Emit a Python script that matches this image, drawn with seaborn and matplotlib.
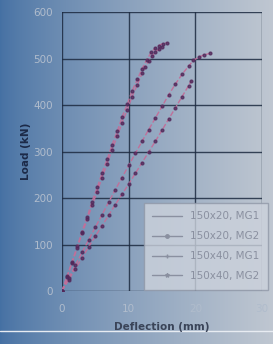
import numpy as np
import pandas as pd
import matplotlib.pyplot as plt
import seaborn as sns
from matplotlib.lines import Line2D

# load-deflection readings
defl_20_mg1 = [0, 1, 2, 3, 4, 5, 6, 7, 8, 9, 10, 11, 12, 13, 14, 15, 16, 17, 18, 19, 19.4]
load_20_mg1 = [0, 24, 48, 71, 95, 118, 140, 163, 186, 208, 230, 253, 276, 299, 322, 346, 370, 394, 418, 442, 452]

defl_20_mg2 = [0, 1, 2, 3, 4, 5, 6, 7, 8, 9, 10, 11, 12, 13, 14, 15, 16, 17, 18, 19, 19.7, 20.5, 21.3, 22.2]
load_20_mg2 = [0, 28, 55, 83, 110, 137, 164, 191, 218, 244, 270, 296, 322, 347, 372, 397, 422, 445, 466, 484, 496, 503, 508, 511]

defl_40_mg1 = [0, 0.8, 1.5, 2.3, 3, 3.8, 4.5, 5.3, 6, 6.8, 7.5, 8.3, 9, 9.8, 10.5, 11.3, 12, 12.5, 13, 13.5, 14, 14.5, 15]
load_40_mg1 = [0, 31, 60, 93, 124, 154, 184, 214, 244, 274, 304, 333, 362, 390, 418, 444, 468, 482, 494, 505, 514, 520, 524]

defl_40_mg2 = [0, 0.8, 1.5, 2.3, 3, 3.8, 4.5, 5.3, 6, 6.8, 7.5, 8.3, 9, 9.8, 10.5, 11.3, 12, 12.7, 13.4, 14, 14.5, 15.1, 15.7]
load_40_mg2 = [0, 33, 63, 96, 128, 160, 192, 223, 254, 284, 314, 344, 374, 402, 430, 455, 478, 497, 514, 522, 528, 532, 534]

labels = ["150x20, MG1", "150x20, MG2", "150x40, MG1", "150x40, MG2"]
defl_sets = [defl_20_mg1, defl_20_mg2, defl_40_mg1, defl_40_mg2]
load_sets = [load_20_mg1, load_20_mg2, load_40_mg1, load_40_mg2]

frames = []
for lab, d, l in zip(labels, defl_sets, load_sets):
    frames.append(pd.DataFrame({"Deflection": d, "Load": l, "Specimen": lab}))
df = pd.concat(frames, ignore_index=True)

sns.set_style("white")
fig = plt.figure(figsize=(2.73, 3.44), dpi=100)

# blue-to-grey gradient backdrop
bg = fig.add_axes([0, 0, 1, 1], zorder=-1)
left_col = np.array([0.27, 0.44, 0.64])
right_col = np.array([0.75, 0.78, 0.82])
t = np.linspace(0, 1, 256) ** 0.75
grad = left_col[None, :] * (1 - t[:, None]) + right_col[None, :] * t[:, None]
bg.imshow(grad[None, :, :], aspect="auto", extent=[0, 1, 0, 1])
bg.axhline(1 - 331 / 344, color="#e8ecf2", lw=1.0)
bg.set_xlim(0, 1)
bg.set_ylim(0, 1)
bg.axis("off")

ax = fig.add_axes([0.227, 0.154, 0.733, 0.811])
ax.patch.set_alpha(0)

line_col = "#c0709a"
dot_col = "#52285a"
sns.lineplot(data=df, x="Deflection", y="Load", hue="Specimen",
             palette=[line_col] * 4, estimator=None, sort=False,
             ax=ax, legend=False, lw=1.0, linestyle="--")
for d, l in zip(defl_sets, load_sets):
    ax.plot(d, l, ls="none", marker="o", ms=2.0, color=dot_col, alpha=0.8)

ax.set_xlim(0, 30)
ax.set_ylim(0, 600)
ax.set_xticks([0, 10, 20, 30])
ax.set_yticks(range(0, 601, 100))
ax.grid(True, color="#1c2a40", lw=1.0, alpha=0.85)
for s in ax.spines.values():
    s.set_visible(False)
ax.tick_params(colors="#b0bccc", labelsize=7.5, length=3, width=0.8)
ax.tick_params(axis="both", color="#1c2a40")
ax.tick_params(axis="x", pad=6)

ax.set_xlabel("Deflection (mm)", fontsize=7.5, fontweight="bold", color="#3a4458", labelpad=6)
ax.set_ylabel("Load (kN)", fontsize=7.5, fontweight="bold", color="#1c2a48", labelpad=2)

handles = [
    Line2D([], [], color="#8a90a0", lw=1),
    Line2D([], [], color="#8a90a0", lw=1, marker="o", ms=2.5),
    Line2D([], [], color="#8a90a0", lw=1, marker="+", ms=3),
    Line2D([], [], color="#8a90a0", lw=1, marker="*", ms=3),
]
leg = ax.legend(handles, labels, loc="lower right", fontsize=7.5, frameon=True,
                bbox_to_anchor=(1.03, 0.004), handlelength=2.8, handletextpad=0.8,
                borderpad=0.85, labelspacing=0.95, fancybox=False, borderaxespad=0)
leg.get_frame().set_facecolor("#ccd2dc")
leg.get_frame().set_alpha(0.8)
leg.get_frame().set_edgecolor("#9098a8")
for txt in leg.get_texts():
    txt.set_color("#8a90a0")

fig.savefig("out.png", dpi=100)
